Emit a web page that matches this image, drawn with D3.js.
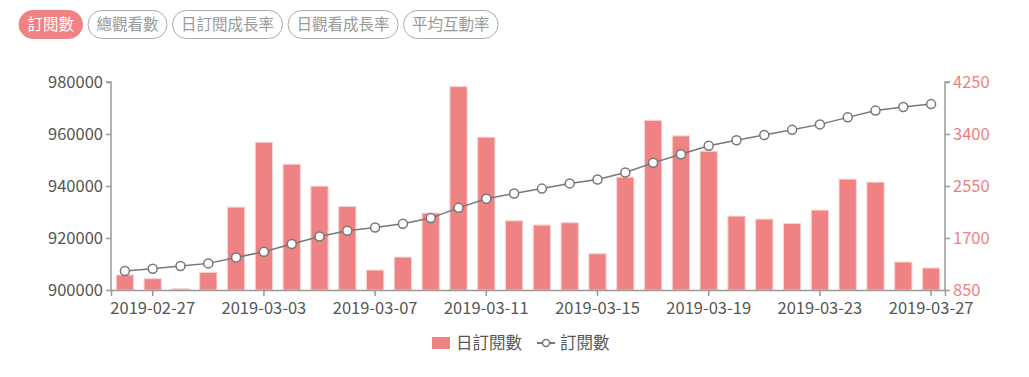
<!DOCTYPE html>
<html>
<head>
<meta charset="utf-8">
<script src="https://cdn.jsdelivr.net/npm/d3@7"></script>
<style>
  body { margin: 0; background: #fff; font-family: "Noto Sans CJK TC", "Noto Sans", sans-serif; }
  svg text { font-family: "Noto Sans CJK TC", "Noto Sans", sans-serif; }
</style>
</head>
<body>
<svg id="chart" width="1029" height="377"></svg>
<script>
// tab buttons across the top
var tabs = ["訂閱數", "總觀看數", "日訂閱成長率", "日觀看成長率", "平均互動率"];

// dates on the category axis
var dates = ["2019-02-26", "2019-02-27", "2019-02-28", "2019-03-01", "2019-03-02", "2019-03-03",
  "2019-03-04", "2019-03-05", "2019-03-06", "2019-03-07", "2019-03-08", "2019-03-09", "2019-03-10",
  "2019-03-11", "2019-03-12", "2019-03-13", "2019-03-14", "2019-03-15", "2019-03-16", "2019-03-17",
  "2019-03-18", "2019-03-19", "2019-03-20", "2019-03-21", "2019-03-22", "2019-03-23", "2019-03-24",
  "2019-03-25", "2019-03-26", "2019-03-27"];

// 日訂閱數 (bars, right axis)
var dailySubs = [1095, 1034, 871, 1139, 2205, 3265, 2906, 2547, 2216, 1176, 1388, 2107, 4174,
  3347, 1981, 1911, 1949, 1443, 2694, 3624, 3369, 3118, 2058, 2009, 1938, 2156, 2662, 2613, 1307, 1209];

// 訂閱數 (line, left axis)
var totalSubs = [907300, 908200, 909200, 910240, 912540, 914700, 917660, 920600, 922800, 924060,
  925500, 927650, 931600, 935100, 937100, 939000, 941000, 942500, 945200, 948900, 952200, 955500,
  957600, 959600, 961600, 963700, 966400, 969000, 970400, 971500];

var leftTicks = [900000, 920000, 940000, 960000, 980000];
var rightTicks = [850, 1700, 2550, 3400, 4250];

var barColor = "#ef8282";
var axisColor = "#999";

var margin = {top: 82, right: 84, bottom: 87, left: 111},
    width = 1029 - margin.left - margin.right,
    height = 377 - margin.top - margin.bottom;

var svg = d3.select("#chart");

/* Tabs */
var tabX = 19;
var tabG = svg.append("g").attr("class", "tabs");
tabs.forEach(function (t, i) {
  var g = tabG.append("g");
  var txt = g.append("text")
    .attr("y", 25)
    .attr("dy", "0.35em")
    .style("font-size", "15.5px")
    .attr("fill", i === 0 ? "#fff" : "#999")
    .text(t);
  var w = txt.node().getComputedTextLength() + 17;
  g.insert("rect", "text")
    .attr("x", tabX).attr("y", 10.5)
    .attr("width", w).attr("height", 28)
    .attr("rx", 14)
    .attr("fill", i === 0 ? "#ef8282" : "#fff")
    .attr("stroke", i === 0 ? "#ef8282" : "#aaa");
  txt.attr("x", tabX + 8.5);
  tabX += w + 5.5;
});

/* Chart */
var g = svg.append("g").attr("transform", "translate(" + margin.left + "," + margin.top + ")");

var xScale = d3.scaleBand().domain(dates).range([0, width]).paddingInner(0.38).paddingOuter(0.19);
var yLeft = d3.scaleLinear().domain([900000, 980000]).range([height, 0]);
var yRight = d3.scaleLinear().domain([850, 4250]).range([height, 0]);

function styleAxis(sel, color) {
  sel.select(".domain").attr("stroke", axisColor).attr("stroke-width", 1.5);
  sel.selectAll(".tick line").attr("stroke", axisColor).attr("stroke-width", 1.5);
  sel.selectAll(".tick text").attr("fill", color).style("font-size", "16.5px");
}

// bars
g.selectAll(".bar")
  .data(dailySubs)
  .enter().append("rect")
    .attr("class", "bar")
    .attr("x", (d, i) => xScale(dates[i]))
    .attr("width", xScale.bandwidth())
    .attr("y", (d) => yRight(d))
    .attr("height", (d) => height - yRight(d))
    .attr("fill", barColor)
    .attr("stroke", "#f9d3d3")
    .attr("stroke-width", 1);

// x axis, label every fourth day
var xAxis = d3.axisBottom(xScale)
  .tickValues(dates.filter((d, i) => i % 4 === 1))
  .tickSizeOuter(0).tickSize(6).tickPadding(6.5);
var xg = g.append("g")
  .attr("transform", "translate(0," + height + ")")
  .call(xAxis);
styleAxis(xg, "#555");

// left axis
var lg = g.append("g").call(d3.axisLeft(yLeft).tickValues(leftTicks).tickFormat(d3.format("d"))
  .tickSizeOuter(0).tickSize(5).tickPadding(3));
styleAxis(lg, "#555");
lg.select(".domain").attr("d", "M0," + height + "V0h-5");

// right axis
var rg = g.append("g").attr("transform", "translate(" + width + ",0)")
  .call(d3.axisRight(yRight).tickValues(rightTicks).tickFormat(d3.format("d"))
  .tickSizeOuter(0).tickSize(5).tickPadding(3));
styleAxis(rg, "#f08080");
rg.select(".domain").attr("d", "M0," + height + "V0h5");

// line
var line = d3.line()
  .x((d, i) => xScale(dates[i]) + xScale.bandwidth() / 2)
  .y((d) => yLeft(d));
g.append("path")
  .datum(totalSubs)
  .attr("fill", "none")
  .attr("stroke", "#777")
  .attr("stroke-width", 1.5)
  .attr("d", line);

g.selectAll(".dot")
  .data(totalSubs)
  .enter().append("circle")
    .attr("class", "dot")
    .attr("cx", (d, i) => xScale(dates[i]) + xScale.bandwidth() / 2)
    .attr("cy", (d) => yLeft(d))
    .attr("r", 4.5)
    .attr("fill", "#fff")
    .attr("stroke", "#777")
    .attr("stroke-width", 1.5);

/* Legend */
var leg = svg.append("g").attr("transform", "translate(0,343)");
leg.append("rect").attr("x", 432).attr("y", -6).attr("width", 18).attr("height", 12).attr("fill", barColor);
leg.append("text").attr("x", 456).attr("dy", "0.35em").attr("fill", "#555").style("font-size", "16.5px").text("日訂閱數");
leg.append("line").attr("x1", 537).attr("x2", 555).attr("stroke", "#777").attr("stroke-width", 2);
leg.append("circle").attr("cx", 546).attr("r", 3.5).attr("fill", "#fff").attr("stroke", "#777").attr("stroke-width", 1.5);
leg.append("text").attr("x", 560).attr("dy", "0.35em").attr("fill", "#555").style("font-size", "16.5px").text("訂閱數");
</script>
</body>
</html>
